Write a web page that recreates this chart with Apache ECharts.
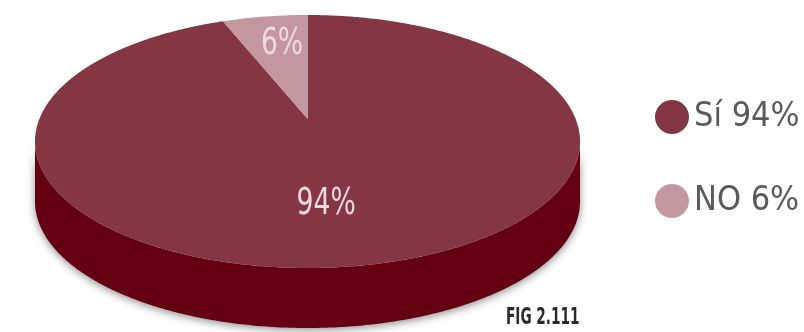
<!DOCTYPE html>
<html>
<head>
<meta charset="utf-8">
<script src="https://cdn.jsdelivr.net/npm/echarts@6/dist/echarts.min.js"></script>
<style>
  html, body { margin: 0; padding: 0; background: #ffffff; }
  #chart { width: 804px; height: 332px; }
</style>
</head>
<body>
<div id="chart"></div>
<script>
// Survey answers
const categories = ['Sí', 'NO'];
const values = [94, 6];
const topColors = ['#843642', '#c4979f'];
const sideColors = ['#650012', '#8f5a63'];
const labelColor = '#f0d9dc';
const figureCaption = 'FIG 2.111';

// Disc geometry on screen
const CX = 307.5, CY = 141.5, RX = 272.5, RY = 126.5, DEPTH = 60, TILT = 0.18;
const LABEL_R = [0.63, 0.73];
const LABEL_SHIFT = [[-17, 0], [7, 3]];
const FONT = '"DejaVu Sans Condensed", "Liberation Sans Narrow", sans-serif';
const total = values.reduce((a, b) => a + b, 0);

// slice i spans [lo, hi] radians, slices laid out clockwise from 12 o'clock
function sliceRange(i) {
  let start = 90;
  for (let j = 0; j < i; j++) start -= values[j] / total * 360;
  const end = start - values[i] / total * 360;
  return [end * Math.PI / 180, start * Math.PI / 180];
}

// perspective view of a point of the unit disc (far side shrinks toward the top)
function project(u, v) {
  const d = 1 + TILT * v;
  const X = u * Math.sqrt(1 - TILT * TILT) / d;
  const Y = (v + TILT) / d;
  return [CX + RX * X, CY - RY * Y];
}

function rim(lo, hi, dy) {
  const pts = [];
  const n = Math.max(2, Math.ceil((hi - lo) / (Math.PI / 360)));
  for (let s = 0; s <= n; s++) {
    const t = lo + (hi - lo) * s / n;
    const p = project(Math.cos(t), Math.sin(t));
    pts.push([p[0], p[1] + dy]);
  }
  return pts;
}

// parts of [lo, hi] that lie on the front (visible) half of the rim
function frontParts(lo, hi) {
  const a = Math.asin(TILT);
  const parts = [];
  for (let k = -2; k <= 2; k++) {
    const fs = Math.PI + a + k * 2 * Math.PI;
    const fe = 2 * Math.PI - a + k * 2 * Math.PI;
    const s = Math.max(lo, fs), e = Math.min(hi, fe);
    if (e > s) parts.push([s, e]);
  }
  return parts;
}

function sideRenderer(i) {
  return function (params, api) {
    const [lo, hi] = sliceRange(i);
    const children = frontParts(lo, hi).map(([s, e]) => {
      const top = rim(s, e, 0);
      const bottom = rim(s, e, DEPTH).reverse();
      return {
        type: 'polygon',
        shape: { points: top.concat(bottom) },
        style: {
          fill: sideColors[i],
          shadowBlur: 9,
          shadowColor: 'rgba(0,0,0,0.45)',
          shadowOffsetY: 2
        }
      };
    });
    return { type: 'group', children };
  };
}

function topRenderer(i) {
  return function (params, api) {
    const [lo, hi] = sliceRange(i);
    const pts = [project(0, 0)].concat(rim(lo, hi, 0));
    const mid = (lo + hi) / 2;
    const lp = project(LABEL_R[i] * Math.cos(mid), LABEL_R[i] * Math.sin(mid));
    return {
      type: 'group',
      children: [
        { type: 'polygon', shape: { points: pts }, style: { fill: topColors[i] } },
        {
          type: 'text',
          x: lp[0] + LABEL_SHIFT[i][0], y: lp[1] + LABEL_SHIFT[i][1],
          scaleX: 0.8,
          style: {
            text: api.value(0) + '%',
            fill: labelColor,
            font: '37px ' + FONT,
            align: 'center',
            verticalAlign: 'middle'
          }
        }
      ]
    };
  };
}

const series = [];
categories.forEach((name, i) => {
  series.push({
    type: 'custom', name, coordinateSystem: 'none', z: 3,
    itemStyle: { color: topColors[i] },
    data: [values[i]], renderItem: topRenderer(i), silent: true
  });
});
categories.forEach((name, i) => {
  series.push({
    type: 'custom', name, coordinateSystem: 'none', z: 2,
    itemStyle: { color: sideColors[i] },
    data: [values[i]], renderItem: sideRenderer(i), silent: true
  });
});

const chart = echarts.init(document.getElementById('chart'), null, { renderer: 'canvas' });
chart.setOption({
  backgroundColor: '#ffffff',
  animation: false,
  legend: {
    orient: 'vertical',
    left: 655, top: 100,
    padding: 0,
    icon: 'circle',
    itemWidth: 34, itemHeight: 34, itemGap: 50,
    selectedMode: false,
    data: categories,
    formatter: name => name + ' ' + values[categories.indexOf(name)] + '%',
    textStyle: { fontFamily: FONT, fontSize: 34, color: '#5a5a5a', lineHeight: 34 }
  },
  graphic: [{
    type: 'text', x: 506, y: 307, scaleX: 0.66,
    style: { text: figureCaption, font: 'bold 23px ' + FONT, fill: '#2b2b2b' }
  }],
  series
});
</script>
</body>
</html>
